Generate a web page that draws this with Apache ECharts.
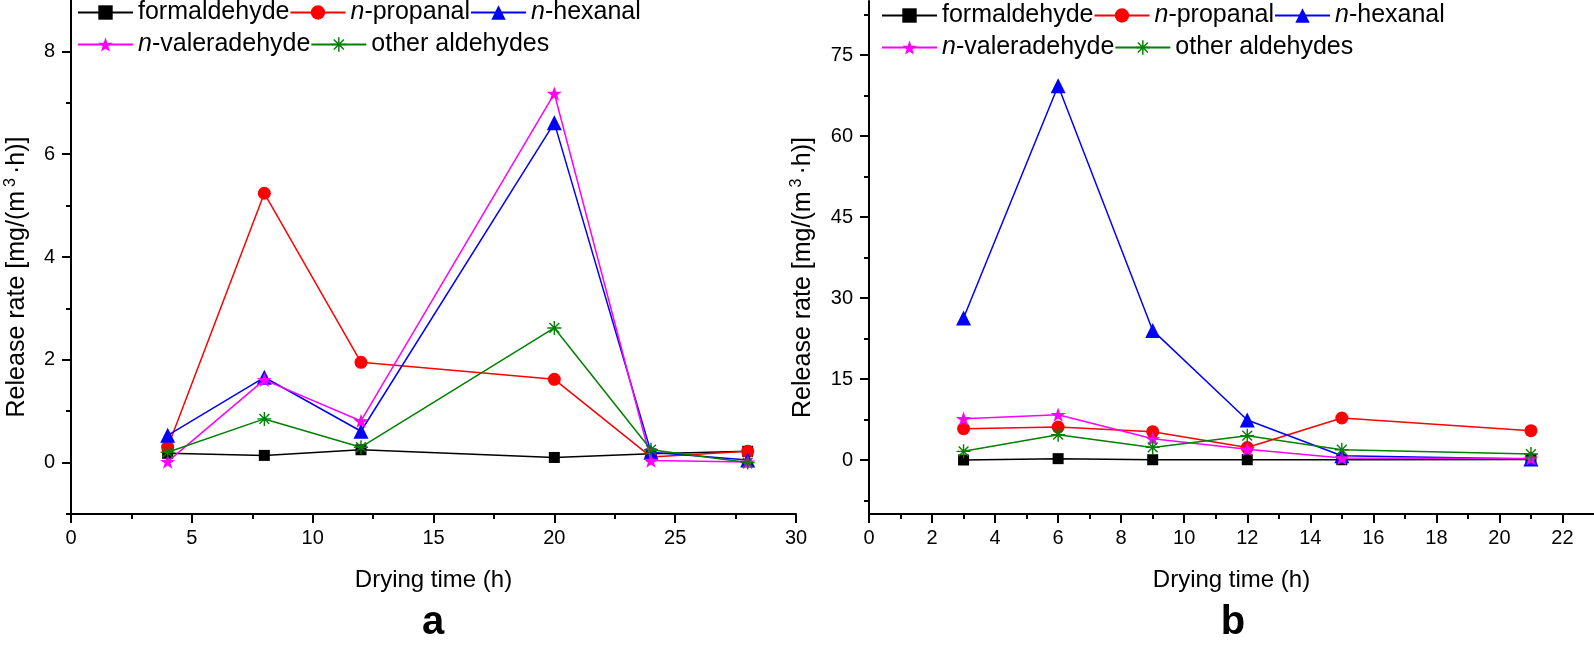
<!DOCTYPE html>
<html><head><meta charset="utf-8">
<script src="https://cdn.jsdelivr.net/npm/echarts@6/dist/echarts.min.js"></script>
<style>html,body{margin:0;padding:0;background:#fff}#c{width:1594px;height:649px}</style>
</head><body><div id="c"></div>
<script>
// ---- data ----
const seriesNames = ['formaldehyde', 'n-propanal', 'n-hexanal', 'n-valeradehyde', 'other aldehydes'];

const timeA = [4, 8, 12, 20, 24, 28];
const formA = [0.18, 0.14, 0.25, 0.10, 0.17, 0.22];
const propA = [0.30, 5.24, 1.95, 1.62, 0.11, 0.22];
const hexA  = [0.53, 1.66, 0.61, 6.61, 0.20, 0.05];
const valA  = [0.02, 1.61, 0.81, 7.18, 0.04, 0.01];
const othA  = [0.20, 0.85, 0.30, 2.62, 0.25, 0.00];

const timeB = [3, 6, 9, 12, 15, 21];
const formB = [0.00, 0.25, 0.05, 0.05, 0.05, 0.10];
const propB = [5.80, 6.10, 5.24, 2.30, 7.78, 5.43];
const hexB  = [26.3, 69.3, 24.0, 7.4, 0.8, 0.2];
const valB  = [7.65, 8.39, 3.94, 2.00, 0.37, 0.30];
const othB  = [1.60, 4.69, 2.33, 4.50, 1.90, 1.10];

const xTicksA = [0, 5, 10, 15, 20, 25, 30];
const xMinorA = [2.5, 7.5, 12.5, 17.5, 22.5, 27.5];
const yTicksA = [0, 2, 4, 6, 8];
const yMinorA = [-1, 1, 3, 5, 7];
const xTicksB = [0, 2, 4, 6, 8, 10, 12, 14, 16, 18, 20, 22];
const xMinorB = [1, 3, 5, 7, 9, 11, 13, 15, 17, 19, 21];
const yTicksB = [0, 15, 30, 45, 60, 75];
const yMinorB = [-7.5, 7.5, 22.5, 37.5, 52.5, 67.5, 82.5];

const xName = 'Drying time (h)';
const yName = '{a|Release rate [mg/(m}{s|3}{a|·h)]}';
const panelLabels = ['a', 'b'];

// ---- styles ----
const FONT = 'Liberation Sans, Arial, sans-serif';
const colors = ['#000000', '#ff0000', '#0000ff', '#ff00ff', '#008000'];
const STAR = 'path://M10 0 L12.35 6.76 L19.51 6.91 L13.8 11.24 L15.88 18.09 L10 14 L4.12 18.09 L6.2 11.24 L0.49 6.91 L7.65 6.76 Z';
const AST = 'path://M9 0 L11 0 L11 20 L9 20 Z M0 9 L20 9 L20 11 L0 11 Z M3.7 2.3 L17.7 16.3 L16.3 17.7 L2.3 3.7 Z M17.7 3.7 L3.7 17.7 L2.3 16.3 L16.3 2.3 Z';
const symbols = ['rect', 'circle', 'triangle', STAR, AST];
const symbolSizes = [11, 13, 15, 15, 14];

const seriesA = [formA, propA, hexA, valA, othA];
const seriesB = [formB, propB, hexB, valB, othB];

function mainX(grid, min, max, ticks) {
  return {
    type: 'value', gridIndex: grid, min: min, max: max, position: 'bottom',
    axisLine: { show: true, onZero: false, lineStyle: { color: '#000', width: 2 } },
    axisTick: { show: true, customValues: ticks, length: 9, lineStyle: { color: '#000', width: 2 } },
    axisLabel: { customValues: ticks, margin: 14, fontSize: 20, color: '#000', fontFamily: FONT, showMinLabel: true, showMaxLabel: true },
    splitLine: { show: false },
    name: xName, nameLocation: 'middle', nameGap: 54,
    nameTextStyle: { fontSize: 24, color: '#000', fontFamily: FONT }
  };
}
function minorX(grid, min, max, ticks) {
  return {
    type: 'value', gridIndex: grid, min: min, max: max, position: 'bottom',
    axisLine: { show: false, onZero: false },
    axisTick: { show: true, customValues: ticks, length: 5, lineStyle: { color: '#000', width: 2 } },
    axisLabel: { show: false }, splitLine: { show: false }
  };
}
function mainY(grid, min, max, ticks, gap, shift) {
  return {
    type: 'value', gridIndex: grid, min: min, max: max, position: 'left',
    axisLine: { show: true, onZero: false, lineStyle: { color: '#000', width: 2 } },
    axisTick: { show: true, customValues: ticks, length: 9, lineStyle: { color: '#000', width: 2 } },
    axisLabel: { customValues: ticks, margin: 16, fontSize: 20, color: '#000', fontFamily: FONT, showMinLabel: true, showMaxLabel: true },
    splitLine: { show: false },
    name: yName, nameLocation: 'middle', nameGap: gap,
    nameTextStyle: {
      fontSize: 25, color: '#000', fontFamily: FONT, padding: [0, shift, 0, 0],
      rich: {
        a: { fontSize: 25, color: '#000', fontFamily: FONT, lineHeight: 28 },
        s: { fontSize: 16, color: '#000', fontFamily: FONT, verticalAlign: 'top', padding: [0, 4, 0, 4] }
      }
    }
  };
}
function minorY(grid, min, max, ticks) {
  return {
    type: 'value', gridIndex: grid, min: min, max: max, position: 'left',
    axisLine: { show: false, onZero: false },
    axisTick: { show: true, customValues: ticks, length: 5, lineStyle: { color: '#000', width: 2 } },
    axisLabel: { show: false }, splitLine: { show: false }
  };
}

const series = [];
[[timeA, seriesA, 0], [timeB, seriesB, 2]].forEach(([t, arr, ai]) => {
  arr.forEach((vals, k) => {
    series.push({
      type: 'line', name: seriesNames[k], xAxisIndex: ai, yAxisIndex: ai,
      data: t.map((x, i) => [x, vals[i]]),
      symbol: symbols[k], symbolSize: symbolSizes[k], symbolKeepAspect: true,
      showAllSymbol: true,
      itemStyle: { color: colors[k] },
      lineStyle: { color: colors[k], width: 1.5 },
      emphasis: { disabled: true }, animation: false, z: 2 + k
    });
  });
});

function legendFmt(name) {
  if (name.indexOf('n-') === 0) return '{i|n}{r|' + name.slice(1) + '}';
  return '{r|' + name + '}';
}
function legend(left, top, names) {
  return {
    left: left, top: top, orient: 'horizontal', padding: 0, itemGap: 0,
    itemWidth: 55, itemHeight: 18, selectedMode: false,
    data: names, formatter: legendFmt,
    textStyle: {
      fontSize: 25, color: '#000', fontFamily: FONT,
      rich: {
        i: { fontSize: 25, fontStyle: 'italic', color: '#000', fontFamily: FONT },
        r: { fontSize: 25, color: '#000', fontFamily: FONT }
      }
    }
  };
}

const option = {
  animation: false,
  backgroundColor: '#ffffff',
  textStyle: { fontFamily: FONT },
  title: [
    { text: panelLabels[0], left: 433, top: 603, textAlign: 'center', padding: 0,
      textStyle: { fontSize: 40, fontWeight: 'bold', color: '#000', fontFamily: FONT } },
    { text: panelLabels[1], left: 1233, top: 603, textAlign: 'center', padding: 0,
      textStyle: { fontSize: 40, fontWeight: 'bold', color: '#000', fontFamily: FONT } }
  ],
  legend: [
    legend(77, 0, seriesNames.slice(0, 3)),
    legend(77, 32, seriesNames.slice(3)),
    legend(881, 3, seriesNames.slice(0, 3)),
    legend(881, 35, seriesNames.slice(3))
  ],
  grid: [
    { left: 71, right: 798, top: 0, bottom: 135 },
    { left: 869, right: 0, top: 1, bottom: 135 }
  ],
  xAxis: [
    mainX(0, 0, 30, xTicksA), minorX(0, 0, 30, xMinorA),
    mainX(1, 0, 23, xTicksB), minorX(1, 0, 23, xMinorB)
  ],
  yAxis: [
    mainY(0, -1, 9, yTicksA, 40, 40), minorY(0, -1, 9, yMinorA),
    mainY(1, -10, 85, yTicksB, 52, 40), minorY(1, -10, 85, yMinorB)
  ],
  series: series
};

const chart = echarts.init(document.getElementById('c'), null, { renderer: 'canvas' });
chart.setOption(option);
</script>
</body></html>
